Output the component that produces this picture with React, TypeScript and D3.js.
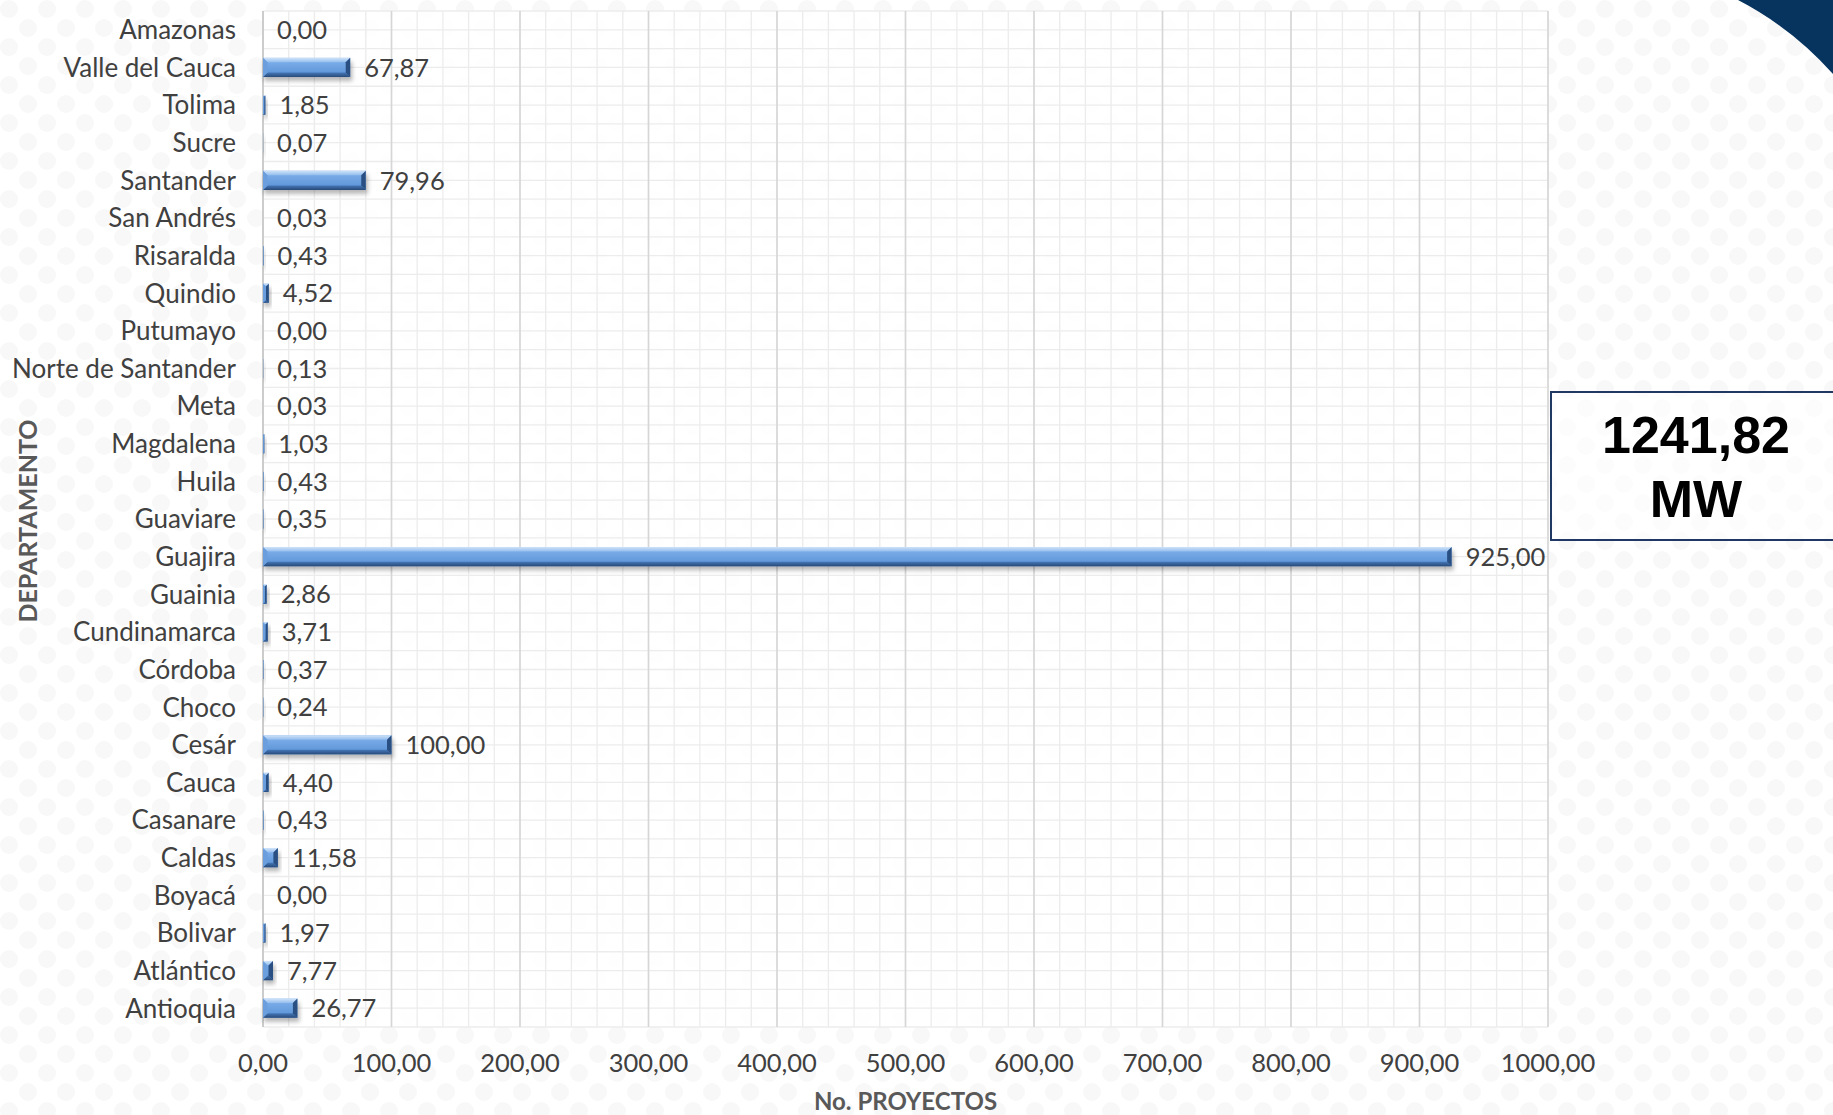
import React from "react";
import * as d3 from "d3";

const categories = [
  "Amazonas", "Valle del Cauca", "Tolima", "Sucre", "Santander", "San Andrés",
  "Risaralda", "Quindio", "Putumayo", "Norte de Santander", "Meta", "Magdalena",
  "Huila", "Guaviare", "Guajira", "Guainia", "Cundinamarca", "Córdoba", "Choco",
  "Cesár", "Cauca", "Casanare", "Caldas", "Boyacá", "Bolivar", "Atlántico", "Antioquia",
];
const values = [
  0.0, 67.87, 1.85, 0.07, 79.96, 0.03, 0.43, 4.52, 0.0, 0.13, 0.03, 1.03,
  0.43, 0.35, 925.0, 2.86, 3.71, 0.37, 0.24, 100.0, 4.4, 0.43, 11.58, 0.0,
  1.97, 7.77, 26.77,
];
const xTicks = [0, 100, 200, 300, 400, 500, 600, 700, 800, 900, 1000];
const minorTicks = d3.range(0, 1001, 20);
const totalLabel = "1241,82";
const totalUnit = "MW";
const xTitle = "No. PROYECTOS";
const yTitle = "DEPARTAMENTO";

const W = 1833, H = 1115;
const L = 263, R = 1548, T = 11, B = 1027;
const fmt = (v: number) => d3.format(".2f")(v).replace(".", ",");
const FONT = "Lato, 'Open Sans', sans-serif";
const GRAY = "#404040";
const FS = 25.5;

export default function App() {
  const x = d3.scaleLinear().domain([0, 1000]).range([L, R]);
  const y = d3.scaleBand().domain(categories).range([T, B]).paddingInner(0.49).paddingOuter(0.245);
  const band = (B - T) / categories.length;
  const halfLines = d3.range(0, categories.length * 2 + 1).map((i) => T + (i * band) / 2);
  const bh = y.bandwidth();

  return (
    <svg width={W} height={H} style={{ position: "absolute", left: 0, top: 0, display: "block" }}
      xmlns="http://www.w3.org/2000/svg">
      <defs>
        <pattern id="dots" width={38} height={38} patternUnits="userSpaceOnUse">
          <circle cx={9} cy={9} r={9} fill="#f8f8f8" />
          <circle cx={28} cy={28} r={9} fill="#f8f8f8" />
        </pattern>
        <linearGradient id="bodyGrad" x1="0" y1="0" x2="0" y2="1">
          <stop offset="0" stopColor="#82b3ec" />
          <stop offset="1" stopColor="#5890d5" />
        </linearGradient>
        <linearGradient id="topGrad" x1="0" y1="0" x2="0" y2="1">
          <stop offset="0" stopColor="#cfe3f9" />
          <stop offset="1" stopColor="#93bdee" />
        </linearGradient>
        <linearGradient id="botGrad" x1="0" y1="0" x2="0" y2="1">
          <stop offset="0" stopColor="#4577b8" />
          <stop offset="1" stopColor="#284a78" />
        </linearGradient>
        <filter id="shadow" x="-10%" y="-50%" width="120%" height="200%">
          <feGaussianBlur stdDeviation="2.2" />
        </filter>
      </defs>
      <rect x={0} y={0} width={W} height={H} fill="#ffffff" />
      <rect x={0} y={0} width={W} height={H} fill="url(#dots)" />
      {/* navy corner shape */}
      <path d="M1738,0 Q1792,28 1833,74 L1833,0 Z" fill="#07335f" />

      {/* plot area */}
      <rect x={L} y={T} width={R - L} height={B - T} fill="#ffffff" fillOpacity={0.85} />
      {minorTicks.map((t) => (
        <line key={"m" + t} x1={x(t)} x2={x(t)} y1={T} y2={B} stroke="#ececec" strokeWidth={1.3} />
      ))}
      {halfLines.map((yy, i) => (
        <line key={"h" + i} x1={L} x2={R} y1={yy} y2={yy} stroke="#ececec" strokeWidth={1.3} />
      ))}
      {xTicks.map((t) => (
        <line key={"M" + t} x1={x(t)} x2={x(t)} y1={T} y2={B} stroke="#d6d6d6" strokeWidth={1.6} />
      ))}
      <line x1={L} x2={L} y1={T} y2={B} stroke="#c8c8c8" strokeWidth={1.6} />

      {/* bars */}
      {categories.map((c, i) => {
        const v = values[i];
        const x0 = x(0);
        const w = x(v) - x0;
        const yy = y(c)!;
        if (w <= 0.05) return null;
        const b = Math.min(4.5, w / 2);
        const x1 = x0 + w;
        const y1 = yy + bh;
        return (
          <g key={c}>
            <rect x={x0 + 1} y={yy + 4} width={w + 1} height={bh} fill="rgba(0,0,0,0.28)" filter="url(#shadow)" />
            <rect x={x0} y={yy} width={w} height={bh} fill="url(#bodyGrad)" />
            <polygon points={`${x0},${yy} ${x1},${yy} ${x1 - b},${yy + b} ${x0 + b},${yy + b}`} fill="url(#topGrad)" />
            <polygon points={`${x0},${y1} ${x1},${y1} ${x1 - b},${y1 - b} ${x0 + b},${y1 - b}`} fill="url(#botGrad)" />
            <polygon points={`${x1 - b},${yy + b} ${x1},${yy} ${x1},${y1} ${x1 - b},${y1 - b}`} fill="#2a4f82" />
            <polygon points={`${x0},${yy} ${x0 + b},${yy + b} ${x0 + b},${y1 - b} ${x0},${y1}`} fill="#6a9edd" />
          </g>
        );
      })}

      {/* value labels */}
      {categories.map((c, i) => (
        <text key={"v" + c} x={x(values[i]) + 14} y={y(c)! + bh / 2} dy="0.36em"
          fontFamily={FONT} fontSize={FS} fill={GRAY}>
          {fmt(values[i])}
        </text>
      ))}

      {/* category labels */}
      {categories.map((c) => (
        <text key={"c" + c} x={236} y={y(c)! + bh / 2} dy="0.36em" textAnchor="end"
          fontFamily={FONT} fontSize={26} fill={GRAY}>
          {c}
        </text>
      ))}

      {/* x tick labels */}
      {xTicks.map((t) => (
        <text key={"t" + t} x={x(t)} y={1072} textAnchor="middle" fontFamily={FONT} fontSize={FS} fill={GRAY}>
          {fmt(t)}
        </text>
      ))}

      <text x={(L + R) / 2} y={1110} textAnchor="middle" fontFamily={FONT} fontWeight="bold" fontSize={24} fill="#595959">
        {xTitle}
      </text>
      <text transform={`translate(37,${521}) rotate(-90)`} textAnchor="middle" fontFamily={FONT}
        fontWeight="bold" fontSize={25} fill="#595959">
        {yTitle}
      </text>

      {/* total box */}
      <rect x={1551} y={392} width={300} height={148} fill="#ffffff" fillOpacity={0.6} stroke="#1f3864" strokeWidth={2} />
      <text x={1696} y={453} textAnchor="middle" fontFamily="'Liberation Sans', Arial, sans-serif"
        fontWeight="bold" fontSize={52} fill="#000000">
        {totalLabel}
      </text>
      <text x={1696} y={517} textAnchor="middle" fontFamily="'Liberation Sans', Arial, sans-serif"
        fontWeight="bold" fontSize={52} fill="#000000">
        {totalUnit}
      </text>
    </svg>
  );
}
